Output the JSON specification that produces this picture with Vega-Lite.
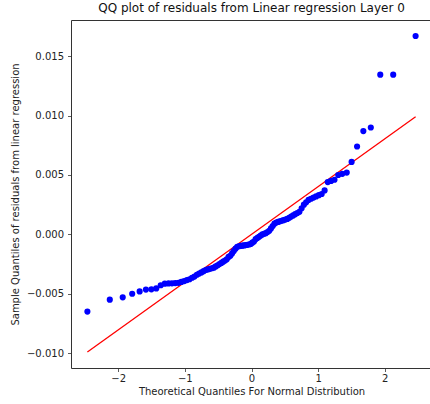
{
  "$schema": "https://vega.github.io/schema/vega-lite/v6.json",
  "autosize": "none",
  "padding": {"left": 71, "top": 20, "right": 0, "bottom": 36},
  "width": 361,
  "height": 348,
  "background": "white",
  "config": {
    "font": "DejaVu Sans",
    "view": {"stroke": null},
    "axis": {
      "grid": false,
      "domainColor": "#333",
      "domainWidth": 1,
      "tickColor": "#333",
      "tickSize": 3.5,
      "tickWidth": 0.8,
      "labelFont": "DejaVu Sans",
      "labelFontSize": 10,
      "labelColor": "#222",
      "titleFont": "DejaVu Sans",
      "titleFontSize": 10,
      "titleFontWeight": "normal",
      "titleColor": "#222"
    }
  },
  "title": {
    "text": "QQ plot of residuals from Linear regression Layer 0",
    "font": "DejaVu Sans",
    "fontSize": 12,
    "fontWeight": "normal",
    "color": "#111",
    "anchor": "middle",
    "offset": 5
  },
  "datasets": {
    "pts": [
      {"q": -2.462, "r": -0.0065}, {"q": -2.126, "r": -0.0055}, {"q": -1.932, "r": -0.0053}, {"q": -1.790, "r": -0.0050}, {"q": -1.678, "r": -0.0048},
      {"q": -1.584, "r": -0.00465}, {"q": -1.502, "r": -0.00463}, {"q": -1.429, "r": -0.00455}, {"q": -1.362, "r": -0.00428}, {"q": -1.301, "r": -0.00415},
      {"q": -1.245, "r": -0.00413}, {"q": -1.193, "r": -0.00412}, {"q": -1.144, "r": -0.0041}, {"q": -1.097, "r": -0.00408}, {"q": -1.053, "r": -0.004},
      {"q": -1.010, "r": -0.00393}, {"q": -0.969, "r": -0.00385}, {"q": -0.930, "r": -0.00378}, {"q": -0.892, "r": -0.00365}, {"q": -0.856, "r": -0.00355},
      {"q": -0.820, "r": -0.0034}, {"q": -0.786, "r": -0.0033}, {"q": -0.752, "r": -0.0032}, {"q": -0.719, "r": -0.0031}, {"q": -0.687, "r": -0.003},
      {"q": -0.656, "r": -0.00295}, {"q": -0.625, "r": -0.0029}, {"q": -0.595, "r": -0.00285}, {"q": -0.566, "r": -0.0028}, {"q": -0.537, "r": -0.0027},
      {"q": -0.508, "r": -0.0026}, {"q": -0.480, "r": -0.0025}, {"q": -0.452, "r": -0.0024}, {"q": -0.425, "r": -0.0023}, {"q": -0.398, "r": -0.0022},
      {"q": -0.371, "r": -0.0021}, {"q": -0.344, "r": -0.0019}, {"q": -0.318, "r": -0.0018}, {"q": -0.292, "r": -0.0016}, {"q": -0.266, "r": -0.0014},
      {"q": -0.240, "r": -0.0012}, {"q": -0.214, "r": -0.00105}, {"q": -0.189, "r": -0.001}, {"q": -0.163, "r": -0.00097}, {"q": -0.138, "r": -0.00095},
      {"q": -0.113, "r": -0.00093}, {"q": -0.088, "r": -0.0009}, {"q": -0.062, "r": -0.00088}, {"q": -0.037, "r": -0.00085}, {"q": -0.012, "r": -0.0008},
      {"q": 0.012, "r": -0.0007}, {"q": 0.037, "r": -0.0006}, {"q": 0.062, "r": -0.0004}, {"q": 0.088, "r": -0.0003}, {"q": 0.113, "r": -0.0002},
      {"q": 0.138, "r": -0.0001}, {"q": 0.163, "r": 0.0}, {"q": 0.189, "r": 0.00005}, {"q": 0.214, "r": 0.0001}, {"q": 0.240, "r": 0.0002},
      {"q": 0.266, "r": 0.0003}, {"q": 0.292, "r": 0.0005}, {"q": 0.318, "r": 0.0007}, {"q": 0.344, "r": 0.0009}, {"q": 0.371, "r": 0.001},
      {"q": 0.398, "r": 0.00105}, {"q": 0.425, "r": 0.0011}, {"q": 0.452, "r": 0.00115}, {"q": 0.480, "r": 0.0012}, {"q": 0.508, "r": 0.00125},
      {"q": 0.537, "r": 0.0013}, {"q": 0.566, "r": 0.0014}, {"q": 0.595, "r": 0.0015}, {"q": 0.625, "r": 0.0016}, {"q": 0.656, "r": 0.0017},
      {"q": 0.687, "r": 0.0018}, {"q": 0.719, "r": 0.0019}, {"q": 0.752, "r": 0.0022}, {"q": 0.786, "r": 0.0025}, {"q": 0.820, "r": 0.0027},
      {"q": 0.856, "r": 0.0029}, {"q": 0.892, "r": 0.003}, {"q": 0.930, "r": 0.0031}, {"q": 0.969, "r": 0.0032}, {"q": 1.010, "r": 0.0033},
      {"q": 1.053, "r": 0.0034}, {"q": 1.097, "r": 0.0037}, {"q": 1.144, "r": 0.0044}, {"q": 1.193, "r": 0.0045}, {"q": 1.245, "r": 0.0046},
      {"q": 1.301, "r": 0.005}, {"q": 1.362, "r": 0.0051}, {"q": 1.429, "r": 0.0052}, {"q": 1.502, "r": 0.0061}, {"q": 1.584, "r": 0.0074},
      {"q": 1.678, "r": 0.0087}, {"q": 1.790, "r": 0.009}, {"q": 1.932, "r": 0.01345}, {"q": 2.126, "r": 0.01345}, {"q": 2.462, "r": 0.0167}
    ],
    "fit": [
      {"q": -2.462, "r": -0.0099},
      {"q": 2.462, "r": 0.0099}
    ]
  },
  "layer": [
    {
      "data": {"name": "fit"},
      "mark": {"type": "line", "color": "#ff0000", "strokeWidth": 1.3},
      "encoding": {
        "x": {"field": "q", "type": "quantitative", "scale": {"domain": [-2.708, 2.708], "nice": false, "zero": false},
              "axis": {"orient": "top", "labels": false, "ticks": false, "title": null}},
        "y": {"field": "r", "type": "quantitative", "scale": {"domain": [-0.01125, 0.01805], "nice": false, "zero": false},
              "axis": {"orient": "right", "labels": false, "ticks": false, "title": null, "domain": false}}
      }
    },
    {
      "data": {"name": "pts"},
      "mark": {"type": "point", "shape": "circle", "filled": true, "color": "#0000ff", "opacity": 1, "size": 38},
      "encoding": {
        "x": {"field": "q", "type": "quantitative",
              "axis": {"orient": "bottom", "values": [-2, -1, 0, 1, 2], "format": "d", "labelPadding": 2, "titlePadding": 3,
                       "title": "Theoretical Quantiles For Normal Distribution"}},
        "y": {"field": "r", "type": "quantitative",
              "axis": {"orient": "left", "values": [-0.01, -0.005, 0, 0.005, 0.01, 0.015], "format": ".3f", "labelPadding": 4, "titlePadding": 6,
                       "title": "Sample Quantiles of residuals from linear regression"}}
      }
    }
  ],
  "resolve": {"axis": {"x": "independent", "y": "independent"}}
}
